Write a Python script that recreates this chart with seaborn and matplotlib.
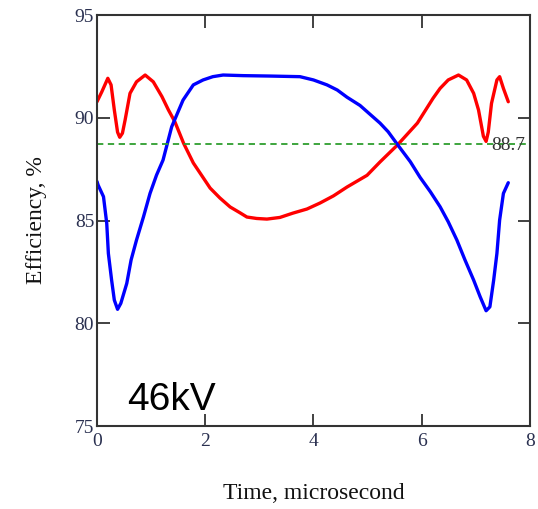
import numpy as np
import pandas as pd
import matplotlib
matplotlib.use("Agg")
import matplotlib.pyplot as plt
import seaborn as sns

# red curve (time in microseconds, efficiency %)
red_t = [0.00, 0.09, 0.20, 0.26, 0.32, 0.38, 0.42, 0.47, 0.52, 0.61, 0.73, 0.89,
         1.04, 1.20, 1.32, 1.44, 1.60, 1.78, 2.09, 2.27, 2.46, 2.64, 2.77, 2.95,
         3.14, 3.38, 3.62, 3.88, 4.12, 4.37, 4.62, 4.99, 5.23, 5.55, 5.92, 6.21,
         6.34, 6.49, 6.68, 6.83, 6.96, 7.05, 7.14, 7.19, 7.23, 7.29, 7.39, 7.44,
         7.51, 7.60]
red_eff = [90.78, 91.27, 91.92, 91.6, 90.38, 89.3, 89.05, 89.25, 89.9, 91.19, 91.75, 92.08,
           91.75, 91.03, 90.38, 89.8, 88.76, 87.8, 86.58, 86.1, 85.66, 85.38, 85.17, 85.1,
           85.07, 85.15, 85.36, 85.56, 85.85, 86.2, 86.63, 87.2, 87.85, 88.67, 89.74, 90.95,
           91.43, 91.84, 92.08, 91.84, 91.19, 90.38, 89.1, 88.85, 89.3, 90.7, 91.84, 92.0,
           91.43, 90.78]

# blue curve
blue_t = [0.00, 0.02, 0.12, 0.18, 0.21, 0.27, 0.32, 0.38, 0.44, 0.55, 0.63, 0.73,
          0.86, 0.98, 1.10, 1.22, 1.38, 1.59, 1.78, 1.96, 2.14, 2.33, 2.70, 3.20,
          3.75, 4.00, 4.25, 4.44, 4.62, 4.86, 5.23, 5.38, 5.56, 5.79, 5.97, 6.16,
          6.34, 6.49, 6.65, 6.80, 6.96, 7.08, 7.19, 7.26, 7.33, 7.39, 7.44, 7.51,
          7.60]
blue_eff = [86.9, 86.73, 86.16, 84.86, 83.4, 82.1, 81.13, 80.68, 80.97, 81.94, 83.08, 84.05,
            85.19, 86.32, 87.21, 87.94, 89.56, 90.86, 91.6, 91.84, 92.0, 92.08, 92.05, 92.03,
            92.0, 91.84, 91.6, 91.35, 91.0, 90.6, 89.74, 89.32, 88.67, 87.86, 87.1, 86.4,
            85.67, 84.94, 84.05, 83.08, 82.1, 81.29, 80.61, 80.8, 82.1, 83.4, 85.02, 86.32,
            86.84]

avg_eff = 88.7
x_ticks = [0, 2, 4, 6, 8]
y_ticks = [75, 80, 85, 90, 95]

sns.set_style("ticks")
plt.rcParams['font.family'] = ['Liberation Serif', 'DejaVu Serif']

fig = plt.figure(figsize=(5.38, 5.09), dpi=100)
ax = fig.add_axes([0.1803, 0.163, 0.8047, 0.8075])

sns.lineplot(x=red_t, y=red_eff, color='#ff0000', linewidth=2.4, sort=False, ax=ax)
sns.lineplot(x=blue_t, y=blue_eff, color='#0000ff', linewidth=2.4, sort=False, ax=ax)
ax.axhline(avg_eff, color='#2e9e2e', linewidth=1.3, linestyle=(0, (3.5, 2.5)))
ax.text(7.29, avg_eff - 0.05, f"{avg_eff}", fontsize=14, color='#333333', va='center', ha='left')

ax.text(0.55, 75.8, "46kV", fontsize=28, color='black', family=['Liberation Sans', 'DejaVu Sans'])

ax.set_xlim(0, 8)
ax.set_ylim(75, 95)
ax.set_xticks(x_ticks)
ax.set_yticks(y_ticks)
ax.tick_params(direction='in', length=9, width=1.3, top=True, right=True,
               labelsize=14, labelcolor='#2a3050', color='#333333')
ax.tick_params(axis='x', pad=5)
ax.tick_params(axis='y', pad=2)
for s in ax.spines.values():
    s.set_color('#333333')
    s.set_linewidth(1.5)

ax.set_xlabel("Time, microsecond", fontsize=17, color='#111111', labelpad=24)
ax.set_ylabel("Efficiency, %", fontsize=17, color='#111111', labelpad=20)

fig.savefig("out.png", dpi=100)
